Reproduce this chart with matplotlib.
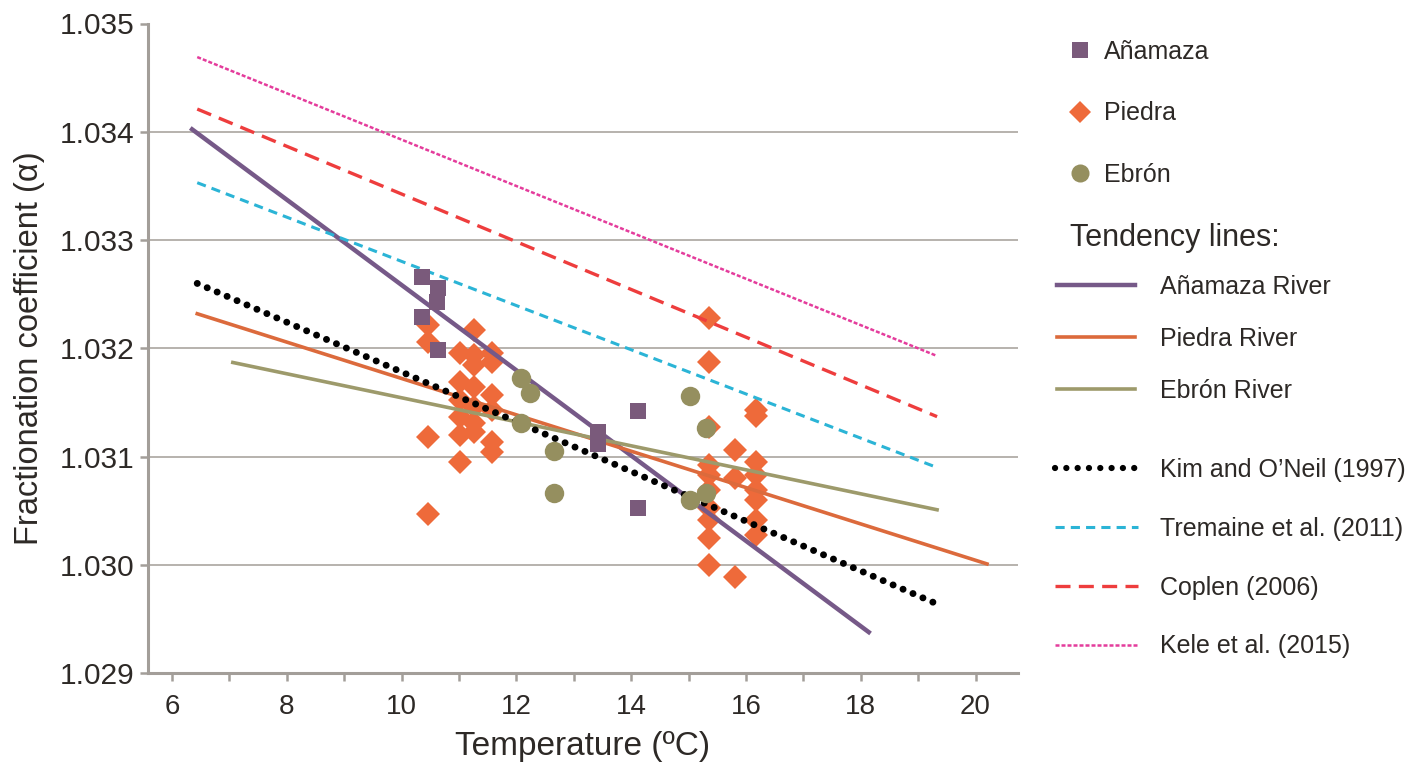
import matplotlib
matplotlib.use("Agg")
import matplotlib.pyplot as plt
from matplotlib.lines import Line2D
import numpy as np

# measured points (temperature degC, fractionation coefficient)
anamaza_t = [10.36, 10.63, 10.61, 10.36, 10.63, 13.42, 13.42, 14.12, 14.12]
anamaza_a = [1.032658, 1.032556, 1.032428, 1.032289, 1.031985,
             1.031228, 1.031117, 1.031422, 1.030526]

piedra_t = [10.46, 10.46, 10.46, 10.46,
            11.02, 11.02, 11.02, 11.02, 11.02, 11.02,
            11.26, 11.26, 11.26, 11.26, 11.26, 11.26, 11.26,
            11.57, 11.57, 11.57, 11.57, 11.57, 11.57,
            15.36, 15.36, 15.36, 15.36, 15.36, 15.36, 15.36, 15.36, 15.36, 15.36,
            15.81, 15.81, 15.81,
            16.17, 16.17, 16.17, 16.17, 16.17, 16.17, 16.17, 16.17]
piedra_a = [1.032216, 1.032059, 1.031182, 1.030471,
            1.031958, 1.031690, 1.031524, 1.031368, 1.031201, 1.030952,
            1.032170, 1.031939, 1.031847, 1.031644, 1.031459, 1.031312, 1.031229,
            1.031958, 1.031875, 1.031570, 1.031431, 1.031136, 1.031043,
            1.032281, 1.031875, 1.031275, 1.030924, 1.030832, 1.030693,
            1.030527, 1.030416, 1.030249, 1.030000,
            1.031062, 1.030803, 1.029889,
            1.031431, 1.031375, 1.030951, 1.030832, 1.030693, 1.030600,
            1.030416, 1.030277]

ebron_t = [12.08, 12.24, 12.08, 12.66, 12.66, 15.02, 15.30, 15.02, 15.30]
ebron_a = [1.031727, 1.031588, 1.031311, 1.031052, 1.030665,
           1.031560, 1.031264, 1.030600, 1.030665]

# tendency lines (start / end)
anamaza_line_t = [6.35, 18.14]
anamaza_line_a = [1.034023, 1.029380]
piedra_line_t = [6.44, 20.20]
piedra_line_a = [1.032320, 1.030010]
ebron_line_t = [7.06, 19.33]
ebron_line_a = [1.031870, 1.030510]

# literature equations (start / end)
ref_t = [6.44, 19.33]
kim_a = [1.032600, 1.029640]
tremaine_a = [1.033530, 1.030900]
coplen_a = [1.034210, 1.031370]
kele_a = [1.034690, 1.031930]

y_ticks = [1.029, 1.030, 1.031, 1.032, 1.033, 1.034, 1.035]
x_ticks = [6, 8, 10, 12, 14, 16, 18, 20]

c_txt = "#2d2926"
c_axis = "#a39e99"
c_sq = "#7a5a7b"
c_dia = "#ee6a3a"
c_circ = "#958f5f"

plt.rcParams["font.family"] = ["Liberation Sans", "DejaVu Sans"]

fig = plt.figure(figsize=(14.22, 7.76), dpi=100)
ax = fig.add_axes([148 / 1422, 1 - 673.3 / 776, 870 / 1422, 649.8 / 776])

ax.plot(piedra_t, piedra_a, "D", color=c_dia, ms=12.5, mew=0, zorder=2)

ax.plot(anamaza_line_t, anamaza_line_a, color="#765988", lw=3.2, zorder=3)
ax.plot(piedra_line_t, piedra_line_a, color="#dc6a3c", lw=2.6, zorder=3)
ax.plot(ebron_line_t, ebron_line_a, color="#9d9a6b", lw=2.6, zorder=3)
ax.plot(ref_t, kim_a, color="black", lw=5, ls=(0, (0.01, 1.55)),
        dash_capstyle="round", zorder=3)
ax.plot(ref_t, tremaine_a, color="#2bb4d6", lw=2.2, ls=(0, (3, 2)), zorder=3)
ax.plot(ref_t, coplen_a, color="#ee3d3d", lw=2.4, ls=(0, (4.5, 2.5)), zorder=3)
ax.plot(ref_t, kele_a, color="#e43c9c", lw=1.8, ls=(0, (1.6, 0.8)), zorder=3)

ax.plot(anamaza_t, anamaza_a, "s", color=c_sq, ms=11.5, mew=0, zorder=4)
ax.plot(ebron_t, ebron_a, "o", color=c_circ, ms=14, mew=0, zorder=4)

ax.set_xlim(5.582, 20.74)
ax.set_ylim(1.029, 1.035)
ax.set_xticks(x_ticks)
ax.set_xticks(np.arange(7, 21, 2), minor=True)
ax.set_yticks(y_ticks)
ax.set_yticklabels(["%.3f" % v for v in y_ticks], fontsize=21.5, color=c_txt)
ax.set_xticklabels([str(v) for v in x_ticks], fontsize=20, color=c_txt)

for s in ["top", "right"]:
    ax.spines[s].set_visible(False)
for s in ["left", "bottom"]:
    ax.spines[s].set_color(c_axis)
    ax.spines[s].set_linewidth(2.2)
ax.tick_params(axis="both", which="both", direction="out", color=c_axis, width=1.8, length=6)
ax.tick_params(axis="x", pad=9)
ax.tick_params(axis="y", pad=4)

ax.yaxis.grid(True, color="#aaa5a0", lw=1.2)
ax.get_ygridlines()[-1].set_visible(False)
ax.set_axisbelow(True)

ax.set_xlabel("Temperature (ºC)", fontsize=24, color=c_txt, labelpad=8)
ax.set_ylabel("Fractionation coefficient (α)", fontsize=23.5, color=c_txt, labelpad=10)

# legends
fs = 18
h1 = [Line2D([], [], ls="none", marker="s", color=c_sq, ms=11, mew=0),
      Line2D([], [], ls="none", marker="D", color=c_dia, ms=11.5, mew=0),
      Line2D([], [], ls="none", marker="o", color=c_circ, ms=13, mew=0)]
leg1 = fig.legend(h1, ["Añamaza", "Piedra", "Ebrón"], loc="upper left",
                  bbox_to_anchor=(1067 / 1422, 1 - 40 / 776), frameon=False,
                  fontsize=fs, handlelength=1.0, handletextpad=0.46,
                  labelspacing=1.5, borderpad=0, borderaxespad=0)

fig.text(1070 / 1422, 1 - 238 / 776, "Tendency lines:", fontsize=22,
         color=c_txt, va="center", ha="left")

h2 = [Line2D([], [], color="#765988", lw=3.2),
      Line2D([], [], color="#dc6a3c", lw=2.6),
      Line2D([], [], color="#9d9a6b", lw=2.6)]
leg2 = fig.legend(h2, ["Añamaza River", "Piedra River", "Ebrón River"], loc="upper left",
                  bbox_to_anchor=(1057 / 1422, 1 - 275 / 776), frameon=False,
                  fontsize=fs, handlelength=3.1, handletextpad=1.0,
                  labelspacing=1.12, borderpad=0, borderaxespad=0)

h3 = [Line2D([], [], color="black", lw=4.5, ls=(0, (0.01, 1.8)), dash_capstyle="round"),
      Line2D([], [], color="#2bb4d6", lw=2.2, ls=(0, (3, 2))),
      Line2D([], [], color="#ee3d3d", lw=2.4, ls=(0, (4.5, 2.5))),
      Line2D([], [], color="#e43c9c", lw=1.8, ls=(0, (1.6, 0.8)))]
leg3 = fig.legend(h3, ["Kim and O’Neil (1997)", "Tremaine et al. (2011)",
                       "Coplen (2006)", "Kele et al. (2015)"], loc="upper left",
                  bbox_to_anchor=(1055 / 1422, 1 - 458 / 776), frameon=False,
                  fontsize=fs, handlelength=3.3, handletextpad=0.88,
                  labelspacing=1.39, borderpad=0, borderaxespad=0)

for lg in (leg1, leg2, leg3):
    for t in lg.get_texts():
        t.set_color(c_txt)

fig.savefig("out.png", dpi=100)
